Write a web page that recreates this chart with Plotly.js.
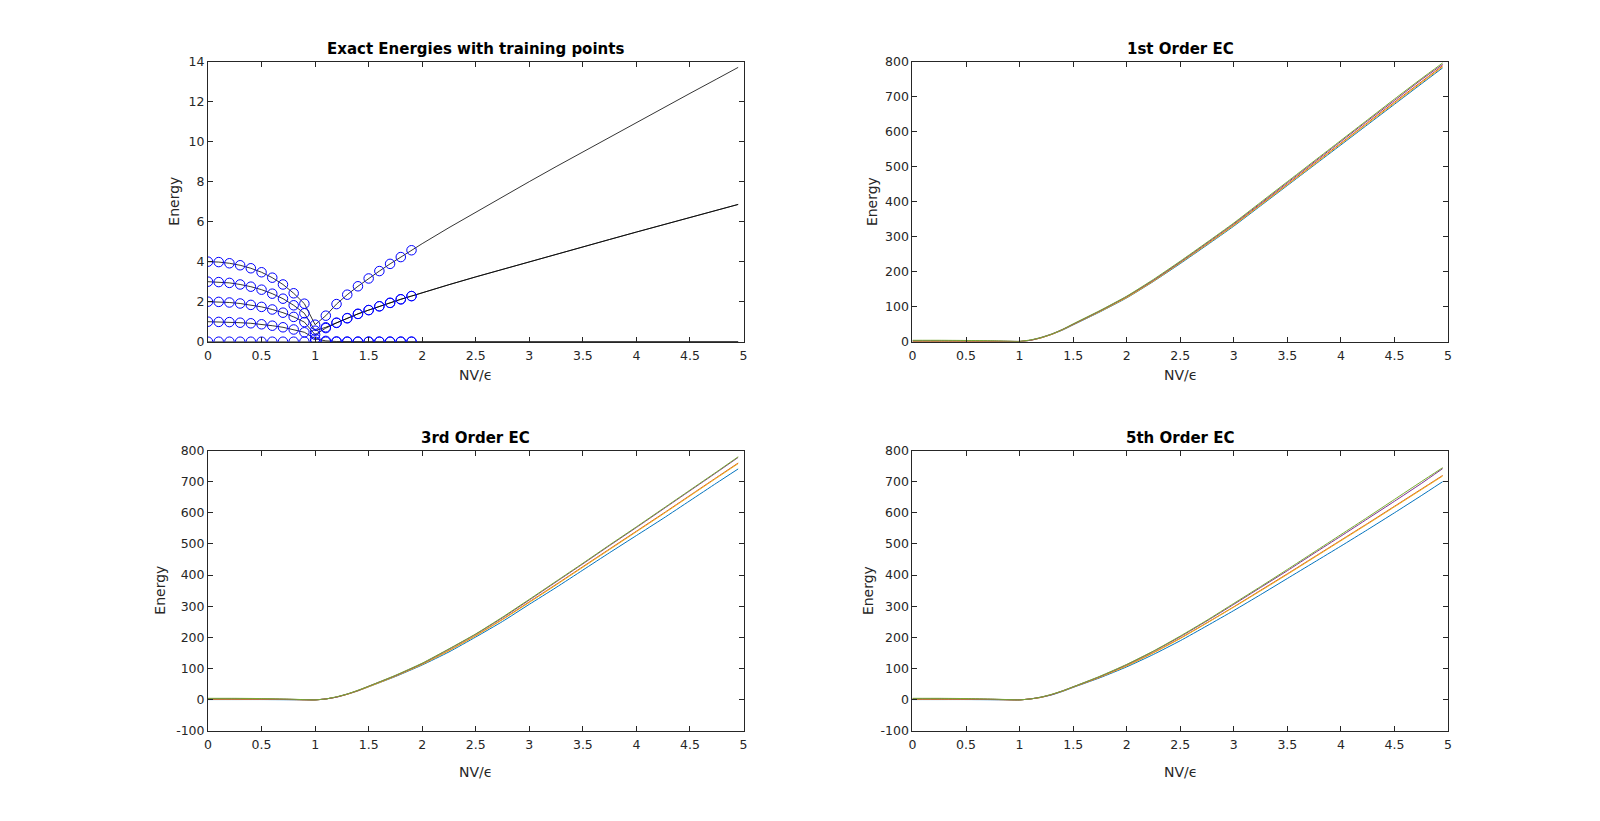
<!DOCTYPE html>
<html>
<head>
<meta charset="utf-8">
<script src="https://cdn.plot.ly/plotly-3.0.1.min.js"></script>
<style>html,body{margin:0;padding:0;background:#fff;}#chart{width:1600px;height:821px;}</style>
</head>
<body>
<div id="chart"></div>
<script>
// ---------- Exact energies (top-left) ----------
var xExact = [0,0.1,0.2,0.3,0.4,0.5,0.6,0.7,0.8,0.9,1.0,1.1,1.2,1.3,1.4,1.5,1.6,1.7,1.8,1.9,
              2.0,2.25,2.5,2.75,3.0,3.25,3.5,3.75,4.0,4.25,4.5,4.75,4.95];
var level0 = [0,0,0,0,0,0,0,0,0,0,0,0,0,0,0,0,0,0,0,0,
              0,0,0,0,0,0,0,0,0,0,0,0,0];
var level1 = [1,0.99,0.98,0.95,0.92,0.87,0.80,0.72,0.61,0.47,0.15,0.04,0.01,0,0,0,0,0,0,0,
              0,0,0,0,0,0,0,0,0,0,0,0,0];
var level2 = [2,1.99,1.96,1.91,1.84,1.74,1.61,1.45,1.24,0.98,0.35,0.68,0.94,1.17,1.39,1.58,1.77,1.94,2.12,2.28,
              2.45,2.85,3.24,3.62,4.0,4.37,4.74,5.11,5.48,5.84,6.2,6.57,6.86];
var level3 = [3,2.98,2.94,2.86,2.75,2.6,2.4,2.15,1.82,1.42,0.55,0.72,0.95,1.18,1.39,1.58,1.77,1.94,2.12,2.28,
              2.45,2.85,3.24,3.62,4.0,4.37,4.74,5.11,5.48,5.84,6.2,6.57,6.86];
var level4 = [4,3.98,3.92,3.82,3.67,3.47,3.2,2.86,2.42,1.9,0.85,1.3,1.88,2.35,2.77,3.16,3.53,3.89,4.23,4.57,
              4.9,5.7,6.48,7.25,8.0,8.75,9.49,10.22,10.95,11.68,12.41,13.13,13.71];
var nTraining = 20; // training points at x = 0, 0.1, ..., 1.9

// ---------- Eigenvector-continuation curves ----------
var xEC = [0,0.25,0.5,0.75,0.9,1,1.1,1.2,1.3,1.4,1.5,1.75,2,2.25,2.5,2.75,3,3.25,3.5,3.75,4,4.25,4.5,4.75,4.95];

var ec1_blue   = [0,0,0,0,0,0.5,4,11,21,33,48,85,125,172,223,276,330,388,446,504,562,620,678,736,782];
var ec1_orange = [1,1,0.9,0.6,0.4,0.6,4,11,21,34,49,87,127,174,226,279,334,392,450,509,567,626,684,742,788];
var ec1_yellow = [2,2,1.7,1.3,0.8,0.7,4,11,21,34,49,86,126,173,225,278,332,390,448,506,565,623,681,739,785];
var ec1_purple = [3,3,2.6,2,1.2,0.8,4,12,22,35,50,88,129,176,228,282,337,395,454,513,572,631,689,748,792];
var ec1_green  = [4,4,3.5,2.7,1.6,0.9,5,12,22,35,51,89,130,178,230,284,339,398,457,516,575,634,693,751,796];

var ec3_blue   = [0,0,0,-0.5,-1,-1,2,8,17,28,41,74,111,153,201,251,306,360,416,472,527,582,639,696,741];
var ec3_orange = [1,1,0.8,0,-0.8,-1,2,8,17,29,42,76,114,158,206,258,314,370,427,484,541,598,656,714,760];
var ec3_yellow = [2,2,1.6,0.5,-0.6,-1,2,8,17,28,41,75,113,157,205,257,312,368,425,482,539,596,654,712,758];
var ec3_purple = [3,3,2.4,1,-0.4,-1,2,8,18,29,43,77,116,162,210,263,320,378,436,495,553,612,671,730,778];
var ec3_green  = [4,4,3.2,1.5,-0.2,-1,2,9,18,30,43,78,117,163,211,265,322,380,438,497,555,614,673,732,780];

var ec5_blue   = [0,0,0,-0.5,-1,-1,2,7,15,26,39,70,105,145,189,237,286,337,389,441,493,546,600,655,700];
var ec5_orange = [1,1,0.8,0,-0.8,-1,2,7,16,27,40,72,109,151,197,247,298,351,404,458,512,566,621,676,720];
var ec5_yellow = [2,2,1.6,0.5,-0.6,-1,2,7,16,27,40,72,108,150,196,246,297,349,402,456,510,564,619,674,718];
var ec5_purple = [3,3,2.4,1,-0.4,-1,2,8,16,28,41,74,112,155,202,253,306,360,414,470,525,581,637,694,742];
var ec5_green  = [4,4,3.2,1.5,-0.2,-1,2,8,17,28,41,75,113,156,204,255,309,363,418,474,530,586,643,700,745];

// ---------- Text ----------
var titles = ['Exact Energies with training points','1st Order EC','3rd Order EC','5th Order EC'];
var xLabel = 'NV/\u03F5';
var yLabel = 'Energy';
var xTickVals = [0,0.5,1,1.5,2,2.5,3,3.5,4,4.5,5];
var xTickText = ['0','0.5','1','1.5','2','2.5','3','3.5','4','4.5','5'];
var yTickValsExact = [0,2,4,6,8,10,12,14];
var yTickTextExact = ['0','2','4','6','8','10','12','14'];
var yTickValsTop = [0,100,200,300,400,500,600,700,800];
var yTickTextTop = ['0','100','200','300','400','500','600','700','800'];
var yTickValsBottom = [-100,0,100,200,300,400,500,600,700,800];
var yTickTextBottom = ['-100','0','100','200','300','400','500','600','700','800'];

var colors = ['#0072BD','#D95319','#EDB120','#7E2F8E','#77AC30'];

var traces = [];
var levels = [level0, level1, level2, level3, level4];
levels.forEach(function(lv){
  traces.push({x:xExact, y:lv, type:'scatter', mode:'lines', xaxis:'x', yaxis:'y',
    line:{color:'#000000', width:0.8}, hoverinfo:'skip', showlegend:false});
});
levels.forEach(function(lv){
  traces.push({x:xExact.slice(0,nTraining), y:lv.slice(0,nTraining), type:'scatter', mode:'markers',
    xaxis:'x', yaxis:'y', showlegend:false,
    marker:{symbol:'circle-open', size:9.5, color:'#0000FF', line:{width:1, color:'#0000FF'}}});
});
var ecSets = [
  ['x2','y2',[ec1_blue,ec1_orange,ec1_yellow,ec1_purple,ec1_green]],
  ['x3','y3',[ec3_blue,ec3_orange,ec3_yellow,ec3_purple,ec3_green]],
  ['x4','y4',[ec5_blue,ec5_orange,ec5_yellow,ec5_purple,ec5_green]]
];
ecSets.forEach(function(s){
  s[2].forEach(function(arr,i){
    traces.push({x:xEC, y:arr, type:'scatter', mode:'lines', xaxis:s[0], yaxis:s[1],
      line:{color:colors[i], width:1, shape:'spline', smoothing:0.5}, showlegend:false});
  });
});

var axFont = {family:'DejaVu Sans, Arial, sans-serif', size:12.5, color:'#262626'};
function xa(domain, anchor){
  return {domain:domain, anchor:anchor, range:[0,5], tickmode:'array', tickvals:xTickVals, ticktext:xTickText,
    showline:true, mirror:'ticks', linecolor:'#262626', linewidth:1,
    ticks:'inside', ticklen:5, tickcolor:'#262626', tickwidth:1, ticklabelstandoff:2,
    showgrid:false, zeroline:false, tickfont:axFont};
}
function ya(domain, anchor, range, tv, tt){
  return {domain:domain, anchor:anchor, range:range, tickmode:'array', tickvals:tv, ticktext:tt,
    showline:true, mirror:'ticks', linecolor:'#262626', linewidth:1,
    ticks:'inside', ticklen:5, tickcolor:'#262626', tickwidth:1,
    showgrid:false, zeroline:false, tickfont:axFont};
}
var dL = [0.13, 0.4647], dR = [0.5703, 0.905];
var dT = [0.5838, 0.925], dB = [0.11, 0.4512];

var ann = [];
var panels = [[dL,dT,-34,-33],[dR,dT,-41,-33],[dL,dB,-48,-41],[dR,dB,-45,-41]];
panels.forEach(function(p,i){
  var cx = (p[0][0]+p[0][1])/2;
  ann.push({text:'<b>'+titles[i]+'</b>', xref:'paper', yref:'paper', x:cx, y:p[1][1],
    xanchor:'center', yanchor:'bottom', yshift:2, showarrow:false,
    font:{family:'DejaVu Sans, Arial, sans-serif', size:15, color:'#000'}});
  ann.push({text:xLabel, xref:'paper', yref:'paper', x:cx, y:p[1][0],
    xanchor:'center', yanchor:'middle', yshift:p[3], showarrow:false,
    font:{family:'DejaVu Sans, Arial, sans-serif', size:14, color:'#262626'}});
  ann.push({text:yLabel, xref:'paper', yref:'paper', x:p[0][0], y:(p[1][0]+p[1][1])/2,
    xanchor:'center', yanchor:'middle', xshift:p[2], textangle:-90, showarrow:false,
    font:{family:'DejaVu Sans, Arial, sans-serif', size:14, color:'#262626'}});
});

var layout = {
  width:1600, height:821, margin:{l:0,r:0,t:0,b:0},
  paper_bgcolor:'#ffffff', plot_bgcolor:'#ffffff', showlegend:false,
  xaxis: xa(dL,'y'),  yaxis: ya(dT,'x',[0,14],yTickValsExact,yTickTextExact),
  xaxis2: xa(dR,'y2'), yaxis2: ya(dT,'x2',[0,800],yTickValsTop,yTickTextTop),
  xaxis3: xa(dL,'y3'), yaxis3: ya(dB,'x3',[-100,800],yTickValsBottom,yTickTextBottom),
  xaxis4: xa(dR,'y4'), yaxis4: ya(dB,'x4',[-100,800],yTickValsBottom,yTickTextBottom),
  annotations: ann
};
Plotly.newPlot('chart', traces, layout, {staticPlot:true, displayModeBar:false});
</script>
</body>
</html>
